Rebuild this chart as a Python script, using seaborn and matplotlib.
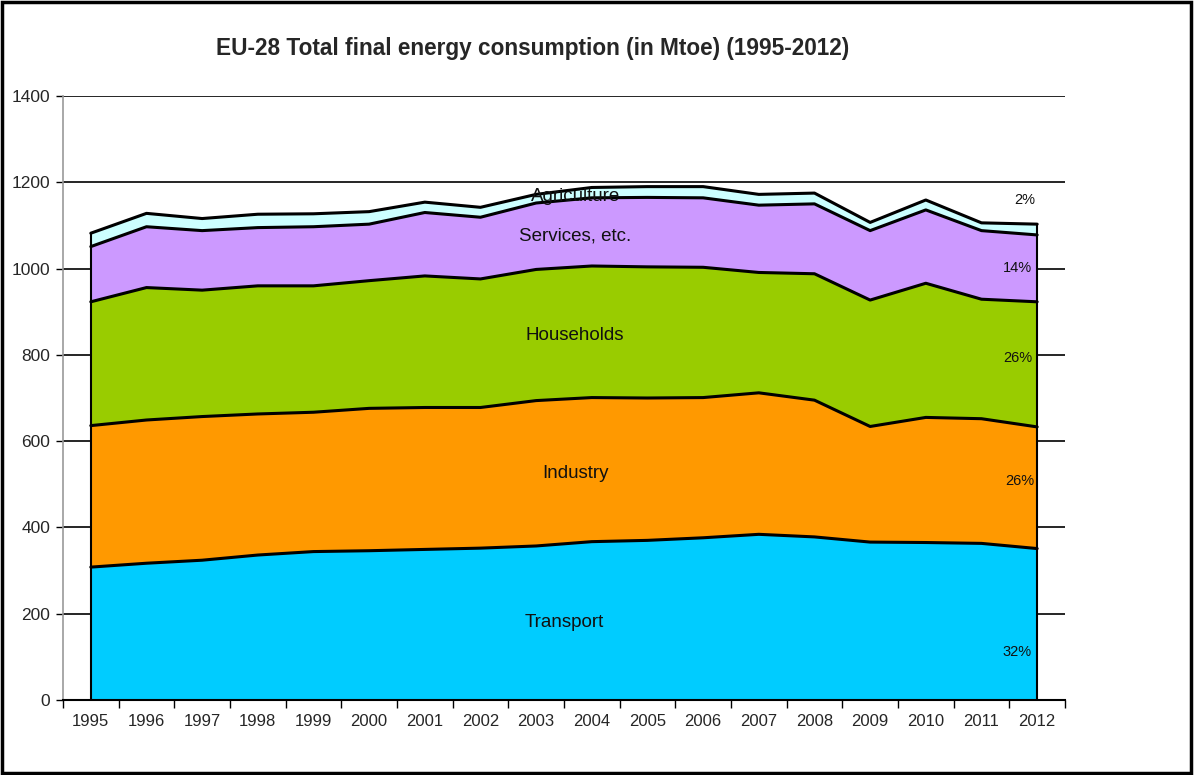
import numpy as np
import pandas as pd
import matplotlib
matplotlib.use("Agg")
import matplotlib.pyplot as plt
import seaborn as sns
from matplotlib.ticker import FixedLocator, NullFormatter
from matplotlib.patches import Rectangle

years = [1995, 1996, 1997, 1998, 1999, 2000, 2001, 2002, 2003,
         2004, 2005, 2006, 2007, 2008, 2009, 2010, 2011, 2012]
transport = [308, 317, 324, 336, 344, 346, 349, 352, 357, 367, 370, 376, 384, 378, 366, 365, 363, 351]
industry = [328, 332, 333, 327, 323, 330, 329, 326, 337, 334, 330, 325, 328, 317, 268, 290, 289, 282]
households = [287, 307, 293, 297, 293, 296, 305, 298, 304, 305, 304, 302, 279, 293, 293, 311, 277, 290]
services = [128, 141, 138, 135, 137, 131, 147, 143, 154, 158, 161, 161, 156, 162, 161, 170, 159, 155]
agriculture = [31, 31, 28, 31, 30, 29, 24, 23, 20, 24, 25, 26, 25, 25, 19, 23, 18, 25]
sectors = ["Transport", "Industry", "Households", "Services, etc.", "Agriculture"]
shares_2012 = ["32%", "26%", "26%", "14%", "2%"]
colors = ["#00CCFF", "#FF9900", "#99CC00", "#CC99FF", "#CCFFFF"]
title = "EU-28 Total final energy consumption (in Mtoe) (1995-2012)"

sns.set_theme(style="white")
plt.rcParams["font.family"] = ["Liberation Sans Narrow", "Liberation Sans", "DejaVu Sans"]

series = [transport, industry, households, services, agriculture]
df = pd.DataFrame({s: v for s, v in zip(sectors, series)})
df["pos"] = np.arange(len(years))
cum = df[sectors].cumsum(axis=1)

fig = plt.figure(figsize=(11.95, 7.75), dpi=100)
ax = fig.add_axes([0.0527, 0.0968, 0.8385, 0.7793])

x = df["pos"].values
ax.stackplot(x, *[df[s].values for s in sectors], colors=colors, zorder=2, linewidth=0)
for s in sectors:
    sns.lineplot(x=x, y=cum[s].values, color="black", linewidth=2.2, ax=ax, zorder=3)
# vertical edges of the area
ax.plot([x[0], x[0]], [0, cum[sectors[-1]].iloc[0]], color="black", lw=1.5, zorder=3)
ax.plot([x[-1], x[-1]], [0, cum[sectors[-1]].iloc[-1]], color="black", lw=1.5, zorder=3)

ax.set_xlim(-0.5, len(years) - 0.5)
ax.set_ylim(0, 1400)
ax.set_yticks(np.arange(0, 1401, 200))
ax.yaxis.grid(True, color="black", linewidth=1.2, zorder=0)
ax.set_axisbelow(True)
ax.set_xticks(x)
ax.set_xticklabels([str(y) for y in years], fontsize=12)
ax.xaxis.set_minor_locator(FixedLocator(np.arange(-0.5, len(years), 1.0)))
ax.xaxis.set_minor_formatter(NullFormatter())
ax.tick_params(axis="x", which="major", length=0, pad=10)
ax.tick_params(axis="x", which="minor", length=6, width=1, color="black", bottom=True)
ax.tick_params(axis="y", which="major", length=5, width=1, color="black", left=True, labelsize=12.5, pad=4)

for side in ["top", "right"]:
    ax.spines[side].set_visible(False)
ax.spines["left"].set_color("#999999")
ax.spines["left"].set_linewidth(1.2)
ax.spines["bottom"].set_color("black")
ax.spines["bottom"].set_linewidth(1.5)

# sector labels in the middle
label_pos = [(8.5, 180), (8.7, 526), (8.7, 846), (8.7, 1075), (8.7, 1166)]
for name, (px, py) in zip(sectors, label_pos):
    ax.text(px, py, name, ha="center", va="center", fontsize=13.5, color="#111111", zorder=5)

# 2012 shares
share_pos = [(16.64, 111), (16.69, 508), (16.65, 793), (16.64, 1001), (16.77, 1159)]
for sh, (px, py) in zip(shares_2012, share_pos):
    ax.text(px, py, sh, ha="center", va="center", fontsize=10.5, color="#111111", zorder=5)

fig.text(0.446, 0.938, title, ha="center", va="center", fontsize=16.3, fontweight="bold")

fig.patches.append(Rectangle((0.002, 0.003), 0.995, 0.994, transform=fig.transFigure,
                             fill=False, edgecolor="black", linewidth=2.5))

fig.savefig("out.png", dpi=100)
